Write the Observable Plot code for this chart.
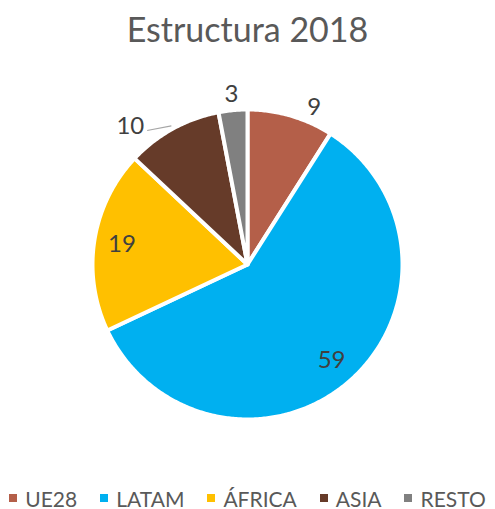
<!DOCTYPE html>
<html><head><meta charset="utf-8">
<script src="https://cdn.jsdelivr.net/npm/d3@7"></script>
<script src="https://cdn.jsdelivr.net/npm/@observablehq/plot@0.6"></script>
<style>
body{margin:0;background:#fff;font-family:Lato,"Open Sans",sans-serif;}
#wrap{width:495px;height:509px;position:relative;overflow:hidden;background:#fff}
#title{height:60px;line-height:58px;text-align:center;font-size:34px;color:#595959;box-sizing:border-box}
#chart svg{display:block}
#legend{height:34px;padding-top:6px;display:flex;align-items:center;justify-content:center;gap:23px;font-size:21px;color:#595959}
.item{display:flex;align-items:center;gap:8px}
.sw{width:8px;height:8px;display:inline-block}
</style></head><body>
<div id="wrap"><div id="title"></div><div id="chart"></div><div id="legend"></div></div>
<script>
const titleText = "Estructura 2018";
const categories = ["UE28","LATAM","ÁFRICA","ASIA","RESTO"];
const values = [9,59,19,10,3];
const colors = ["#B45F49","#00B0F0","#FFC000","#663B29","#808080"];

document.getElementById("title").textContent = titleText;

const W = 495, H = 415, cx = 247, cy = 204, R = 155;
const slices = d3.pie().sort(null).value(d => d.value)(categories.map((c,i)=>({category:c, value:values[i]})));

const pts = [];
slices.forEach(s => {
  const cat = s.data.category;
  pts.push({cat, x:0, y:0});
  const n = Math.max(4, Math.ceil((s.endAngle - s.startAngle)/0.01));
  for (let k=0;k<=n;k++){
    const a = s.startAngle + (s.endAngle - s.startAngle)*k/n;
    pts.push({cat, x:Math.sin(a), y:Math.cos(a)});
  }
  pts.push({cat, x:0, y:0});
});

const labels = slices.map(s => {
  const mid = (s.startAngle + s.endAngle)/2;
  const inside = s.data.value > 15;
  let a = mid, r = inside ? 0.82 : 1.10;
  if (s.data.category === "ASIA") { a = mid - 0.2; r = 1.17; }
  if (s.data.category === "UE28") { a = mid + 0.12; }
  return {text: String(s.data.value), x: r*Math.sin(a), y: r*Math.cos(a)};
});

const asia = slices.find(s => s.data.category === "ASIA");
const am = (asia.startAngle + asia.endAngle)/2;
const leader = [{x1: 1.02*Math.sin(am), y1: 1.02*Math.cos(am), x2: 1.08*Math.sin(am-0.14), y2: 1.08*Math.cos(am-0.14)}];

const plot = Plot.plot({
  width: W, height: H,
  margin: 0,
  x: {domain: [-cx/R, (W-cx)/R], range: [0, W], axis: null},
  y: {domain: [-(H-cy)/R, cy/R], range: [H, 0], axis: null},
  color: {domain: categories, range: colors},
  style: {fontFamily: "Lato, 'Open Sans', sans-serif", background: "#fff"},
  marks: [
    Plot.line(pts, {x:"x", y:"y", z:"cat", fill:"cat", stroke:"white", strokeWidth:4, curve:"linear"}),
    Plot.link(leader, {x1:"x1", y1:"y1", x2:"x2", y2:"y2", stroke:"#A6A6A6", strokeWidth:1.2}),
    Plot.text(labels, {x:"x", y:"y", text:"text", fontSize:24, fill:"#404040"})
  ]
});
document.getElementById("chart").appendChild(plot);

const lg = document.getElementById("legend");
categories.forEach((c,i) => {
  const it = document.createElement("div"); it.className = "item";
  const sw = document.createElement("span"); sw.className = "sw"; sw.style.background = colors[i];
  const tx = document.createElement("span"); tx.textContent = c;
  it.appendChild(sw); it.appendChild(tx); lg.appendChild(it);
});
</script>
</body></html>
